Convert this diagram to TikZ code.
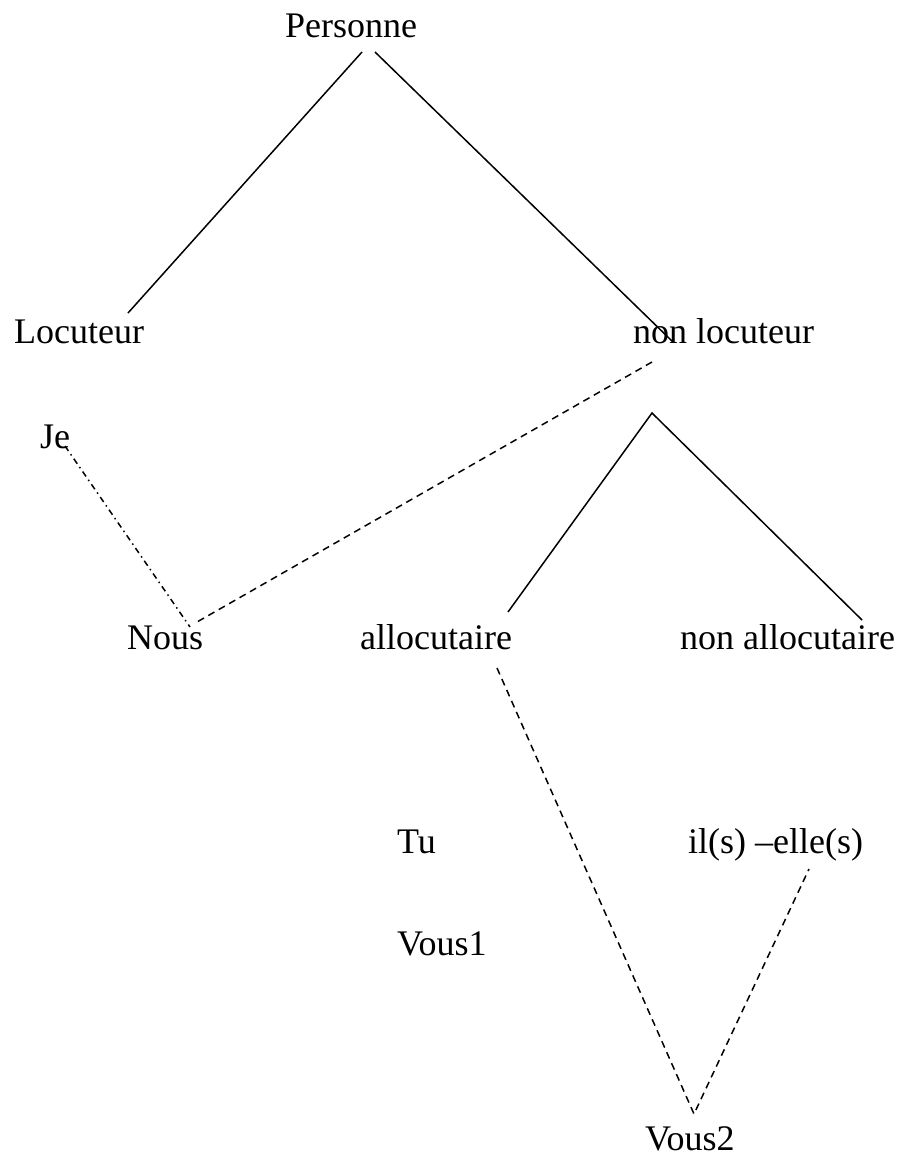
\documentclass[tikz,border=0pt]{standalone}
\usepackage{fontspec}
\setmainfont{Liberation Serif}
\begin{document}
\begin{tikzpicture}[x=1pt,y=-1pt,
  lbl/.style={anchor=base west,inner sep=0pt,font=\fontsize{36}{43}\selectfont},
  solidline/.style={line width=1.5pt},
  dashline/.style={line width=1.5pt,dash pattern=on 7pt off 5pt},
  dashdotline/.style={line width=1.5pt,dash pattern=on 6pt off 4pt on 1.5pt off 4pt}]
\useasboundingbox (0,0) rectangle (906,1160);
\node[lbl] (personne) at (285,37) {Personne};
\node[lbl] (loc) at (14,343) {Locuteur};
\node[lbl] (nonloc) at (633,343) {non locuteur};
\node[lbl] (je) at (40,448) {Je};
\node[lbl] (nous) at (127,649) {Nous};
\node[lbl] (alloc) at (360,649) {allocutaire};
\node[lbl] (nonalloc) at (680,649) {non allocutaire};
\node[lbl] (tu) at (397,853) {Tu};
\node[lbl] (ils) at (688,853) {il(s) –elle(s)};
\node[lbl] (vous1) at (397,955) {Vous1};
\node[lbl] (vous2) at (645,1150) {Vous2};
% connector end points
\coordinate (pL) at (362,52);
\coordinate (pR) at (375,52);
\coordinate (locT) at (128,313);
\coordinate (nlT) at (673,342);
\coordinate (nlB) at (652,362);
\coordinate (nousR) at (197,622);
\coordinate (jeB) at (65,446);
\coordinate (nousT) at (190,627);
\coordinate (apex) at (652,413);
\coordinate (allocT) at (508,612);
\coordinate (nallocT) at (862,620);
\coordinate (allocB) at (497,668);
\coordinate (v2T) at (694,1114);
\coordinate (ilsB) at (809,869);
\draw[solidline] (pL) -- (locT);
\draw[solidline] (pR) -- (nlT);
\draw[dashline] (nlB) -- (nousR);
\draw[dashdotline] (jeB) -- (nousT);
\draw[solidline] (allocT) -- (apex) -- (nallocT);
\draw[dashline] (allocB) -- (v2T) -- (ilsB);
\end{tikzpicture}
\end{document}
